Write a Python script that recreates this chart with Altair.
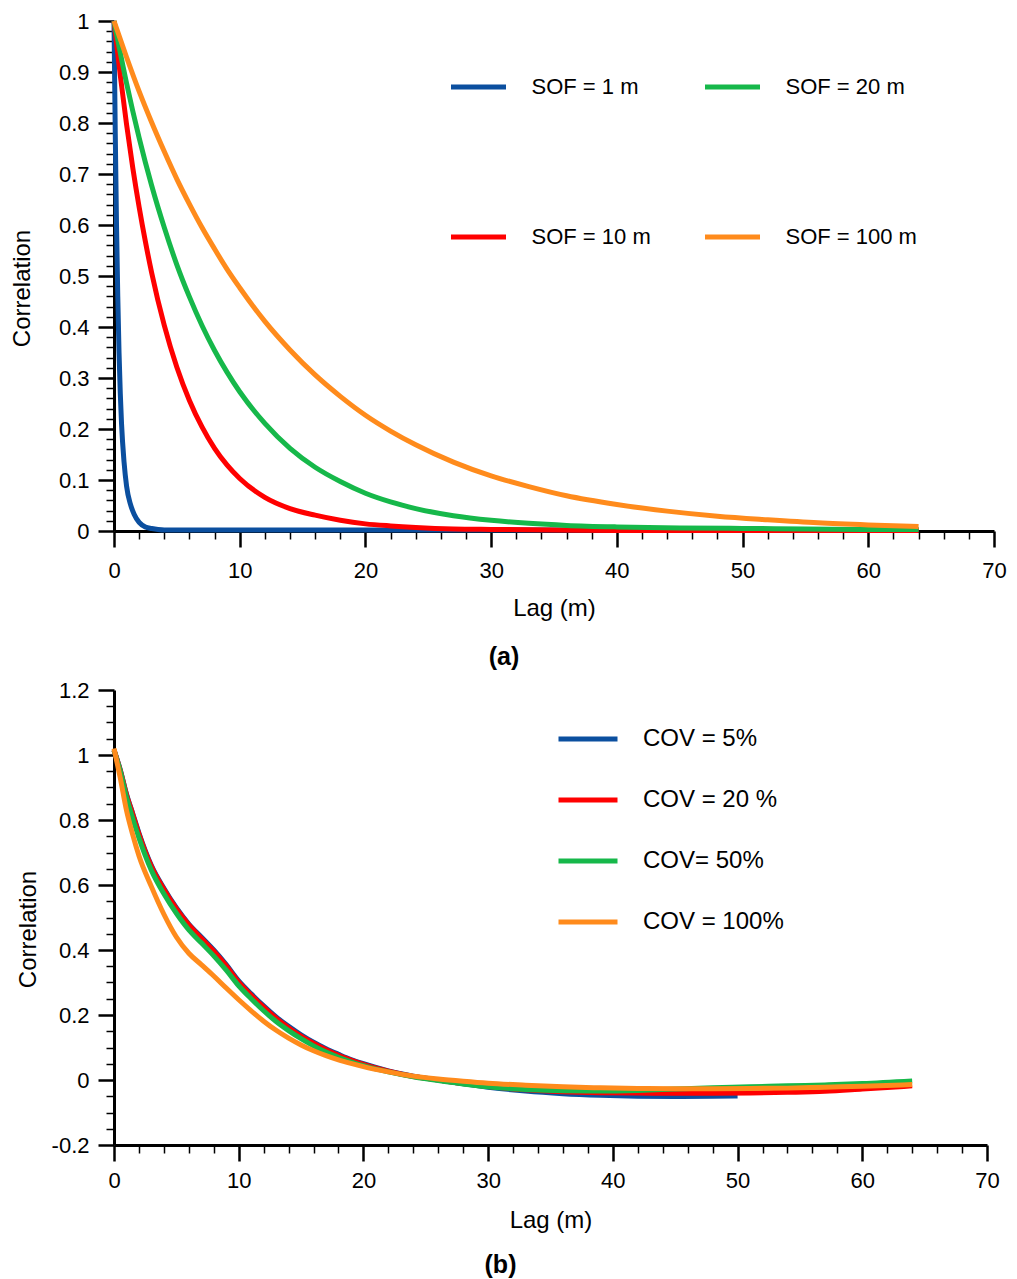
import altair as alt
import pandas as pd

FONT = "Liberation Sans"

# ---------------- panel (a): correlation for several scales of fluctuation ----------------
A_NAMES = ["SOF = 1 m", "SOF = 10 m", "SOF = 20 m", "SOF = 100 m"]          # drawing order
A_LEGEND_ORDER = ["SOF = 1 m", "SOF = 10 m", "SOF = 20 m", "SOF = 100 m"]
A_LEGEND_COLORS = ["#0B4F9F", "#FF0000", "#16B84A", "#FF8B1C"]

a_lag_1 = [0, 0.1, 0.2, 0.3, 0.4, 0.5, 0.6, 0.8, 1.0, 1.3, 1.6, 2.0, 2.5, 3.0, 3.5, 4.0,
           6, 10, 20, 30, 40, 50, 60, 64]
a_cor_1 = [1.0, 0.78, 0.6, 0.46, 0.35, 0.27, 0.21, 0.135, 0.088, 0.053, 0.033, 0.017, 0.008,
           0.005, 0.003, 0.002, 0.002, 0.002, 0.002, 0.002, 0.002, 0.002, 0.002, 0.002]

a_lag_10 = [0, 0.5, 1, 1.5, 2, 2.5, 3, 4, 5, 6, 7, 8, 9, 10, 12, 14, 16, 18, 20, 22, 24, 27,
            30, 35, 40, 45, 50, 55, 60, 64]
a_cor_10 = [1.0, 0.893, 0.797, 0.711, 0.635, 0.567, 0.506, 0.403, 0.321, 0.256, 0.204, 0.162,
            0.129, 0.103, 0.066, 0.044, 0.031, 0.021, 0.014, 0.010, 0.007, 0.004, 0.003, 0.002,
            0.001, 0.001, 0.001, 0.001, 0.001, 0.001]

a_lag_20 = [0, 1, 2, 3, 4, 5, 6, 7, 8, 9, 10, 12, 14, 16, 18, 20, 22, 24, 27, 30,
            33, 36, 40, 45, 50, 55, 60, 64]
a_cor_20 = [1.0, 0.878, 0.771, 0.677, 0.595, 0.522, 0.459, 0.403, 0.354, 0.311, 0.273, 0.211,
            0.162, 0.125, 0.097, 0.074, 0.057, 0.044, 0.030, 0.021, 0.015, 0.011, 0.008, 0.006,
            0.005, 0.004, 0.003, 0.003]

a_lag_100 = [0, 1, 2, 3, 4, 5, 6, 7, 8, 9, 10, 12, 14, 16, 18, 20, 22, 24, 27, 30, 33, 36, 40,
             44, 48, 52, 56, 60, 64]
a_cor_100 = [1.0, 0.929, 0.862, 0.801, 0.744, 0.690, 0.641, 0.595, 0.553, 0.513, 0.477, 0.411,
             0.355, 0.306, 0.264, 0.227, 0.196, 0.169, 0.135, 0.108, 0.087, 0.069, 0.052, 0.039,
             0.029, 0.022, 0.016, 0.012, 0.009]

A_DATA = {
    "SOF = 1 m": (a_lag_1, a_cor_1),
    "SOF = 10 m": (a_lag_10, a_cor_10),
    "SOF = 20 m": (a_lag_20, a_cor_20),
    "SOF = 100 m": (a_lag_100, a_cor_100),
}

# ---------------- panel (b): correlation for several COV values ----------------
B_NAMES = ["COV = 5%", "COV = 20 %", "COV= 50%", "COV = 100%"]
B_COLORS = ["#0B4F9F", "#FF0000", "#16B84A", "#FF8B1C"]

b_lag_5 = [0, 0.5, 1, 1.5, 2, 3, 4, 5, 6, 7, 8, 9, 10, 11, 12, 13, 14, 15, 16, 17, 18, 19, 20,
           22, 24, 26, 28, 30, 33, 36, 39, 42, 45, 48, 50]
b_cor_5 = [1.015, 0.955, 0.88, 0.82, 0.76, 0.66, 0.59, 0.53, 0.48, 0.44, 0.40, 0.355, 0.305,
           0.265, 0.228, 0.194, 0.165, 0.139, 0.116, 0.096, 0.079, 0.063, 0.05, 0.028, 0.012,
           0.0, -0.012, -0.022, -0.034, -0.042, -0.047, -0.05, -0.051, -0.05, -0.049]

b_lag = [0, 0.5, 1, 1.5, 2, 3, 4, 5, 6, 7, 8, 9, 10, 11, 12, 13, 14, 15, 16, 17, 18, 19, 20,
         22, 24, 26, 28, 30, 33, 36, 39, 42, 45, 48, 51, 54, 57, 60, 64]
b_cor_20 = [1.015, 0.953, 0.878, 0.818, 0.757, 0.657, 0.587, 0.527, 0.477, 0.436, 0.396, 0.351,
            0.301, 0.261, 0.224, 0.19, 0.161, 0.135, 0.113, 0.093, 0.076, 0.061, 0.048, 0.027,
            0.011, 0.0, -0.011, -0.02, -0.03, -0.036, -0.039, -0.04, -0.041, -0.041, -0.04,
            -0.038, -0.035, -0.028, -0.018]
b_cor_50 = [1.015, 0.95, 0.87, 0.805, 0.745, 0.645, 0.573, 0.513, 0.462, 0.422, 0.382, 0.338,
            0.29, 0.25, 0.213, 0.18, 0.152, 0.127, 0.105, 0.086, 0.07, 0.056, 0.044, 0.025,
            0.01, -0.002, -0.012, -0.021, -0.029, -0.033, -0.034, -0.032, -0.028, -0.024,
            -0.021, -0.018, -0.015, -0.011, -0.003]
b_cor_100 = [1.02, 0.93, 0.83, 0.755, 0.69, 0.595, 0.51, 0.44, 0.39, 0.355, 0.32, 0.283, 0.247,
             0.213, 0.181, 0.153, 0.129, 0.108, 0.09, 0.075, 0.062, 0.051, 0.041, 0.025, 0.012,
             0.003, -0.004, -0.01, -0.016, -0.021, -0.024, -0.026, -0.027, -0.027, -0.026,
             -0.025, -0.022, -0.019, -0.014]

B_DATA = {
    "COV = 5%": (b_lag_5, b_cor_5),
    "COV = 20 %": (b_lag, b_cor_20),
    "COV= 50%": (b_lag, b_cor_50),
    "COV = 100%": (b_lag, b_cor_100),
}

# ---------------- tick values ----------------
X_MAJOR = [0, 10, 20, 30, 40, 50, 60, 70]
X_MINOR = [v for v in range(0, 71, 2) if v % 10 != 0]
A_Y_MAJOR = [0, 0.1, 0.2, 0.3, 0.4, 0.5, 0.6, 0.7, 0.8, 0.9, 1.0]
A_Y_MINOR = [round(i * 0.02, 2) for i in range(51) if i % 5 != 0]
B_Y_MAJOR = [-0.2, 0, 0.2, 0.4, 0.6, 0.8, 1.0, 1.2]
B_Y_MINOR = [round(-0.2 + i * 0.05, 2) for i in range(29) if i % 4 != 0]

LABEL_EXPR = "datum.value < 0 ? '-' + format(-datum.value, '~g') : format(datum.value, '~g')"

LABEL_SIZE = 22
TITLE_SIZE = 24


def to_frame(data):
    rows = []
    for name, (lags, cors) in data.items():
        for l, c in zip(lags, cors):
            rows.append({"series": name, "lag": l, "corr": c})
    return pd.DataFrame(rows)


def panel(data, names, legend_domain, legend_range, legend, ydomain, ymajor, yminor,
          width, height, x_label_pad, title_x, title_y, x_title_pad, title_text, title_offset):
    df = to_frame(data)
    xs = alt.Scale(domain=[0, 70], nice=False, zero=False)
    ys = alt.Scale(domain=ydomain, nice=False, zero=False)
    cs = alt.Scale(domain=legend_domain, range=legend_range)

    x_major = alt.Axis(orient="bottom", values=X_MAJOR, format="d", title="Lag (m)",
                       tickSize=16, tickWidth=2.5, tickColor="black", domainColor="black",
                       domainWidth=3, labelFont=FONT, labelFontSize=LABEL_SIZE,
                       labelColor="black", labelPadding=x_label_pad, labelFlush=False,
                       labelOverlap=False, titleFont=FONT, titleFontSize=TITLE_SIZE,
                       titleFontWeight="normal", titleColor="black", titlePadding=x_title_pad,
                       grid=False)
    x_minor = alt.Axis(orient="bottom", values=X_MINOR, title=None, labels=False, domain=False,
                       tickSize=8, tickWidth=1.5, tickColor="black", grid=False)
    y_major = alt.Axis(orient="left", values=ymajor, labelExpr=LABEL_EXPR, title="Correlation",
                       tickSize=16, tickWidth=2.5, tickColor="black", domainColor="black",
                       domainWidth=3, labelFont=FONT, labelFontSize=LABEL_SIZE,
                       labelColor="black", labelPadding=9, labelFlush=False, labelOverlap=False,
                       titleFont=FONT, titleFontSize=TITLE_SIZE, titleFontWeight="normal",
                       titleColor="black", titleX=title_x, titleY=title_y,
                       titleAlign="center", titleBaseline="middle", grid=False)
    y_minor = alt.Axis(orient="left", values=yminor, title=None, labels=False, domain=False,
                       tickSize=8, tickWidth=1.5, tickColor="black", grid=False)

    layers = []
    for i, name in enumerate(names):
        if i == 0:
            xa, ya = x_major, y_major
        elif i == 1:
            xa, ya = x_minor, y_minor
        else:
            xa, ya = None, None
        layer = alt.Chart(df).transform_filter(alt.datum.series == name).mark_line(
            strokeWidth=5, interpolate="monotone", strokeCap="butt"
        ).encode(
            x=alt.X("lag:Q", scale=xs, axis=xa),
            y=alt.Y("corr:Q", scale=ys, axis=ya),
            color=alt.Color("series:N", scale=cs, legend=legend),
        )
        layers.append(layer)

    return alt.layer(*layers).resolve_axis(x="independent", y="independent").properties(
        width=width, height=height,
        title=alt.TitleParams(title_text, orient="bottom", anchor="middle", font=FONT,
                              fontSize=25, fontWeight="bold", color="black",
                              offset=title_offset, dx=-50),
    )


legend_a = alt.Legend(orient="none", legendX=334.5, legendY=36, columns=2, title=None,
                      symbolType="stroke", symbolSize=3025, symbolStrokeWidth=5,
                      labelFont=FONT, labelFontSize=22, labelColor="black", labelOffset=23,
                      labelLimit=400, rowPadding=109, columnPadding=43, padding=0)
legend_b = alt.Legend(orient="none", legendX=442, legendY=17, direction="vertical", title=None,
                      symbolType="stroke", symbolSize=3481, symbolStrokeWidth=5,
                      labelFont=FONT, labelFontSize=24, labelColor="black", labelOffset=23,
                      labelLimit=400, rowPadding=17, padding=0)

top = panel(A_DATA, A_NAMES, A_LEGEND_ORDER, A_LEGEND_COLORS, legend_a, [0, 1],
            A_Y_MAJOR, A_Y_MINOR, 880, 510, 13, -92, 267, 15, "(a)", 25)
bottom = panel(B_DATA, B_NAMES, B_NAMES, B_COLORS, legend_b, [-0.2, 1.2],
               B_Y_MAJOR, B_Y_MINOR, 873, 455, 9, -86, 239, 17, "(b)", 21)

chart = alt.vconcat(top, bottom, spacing=9).resolve_scale(color="independent").properties(
    padding={"left": 10, "top": 10, "right": 0, "bottom": 0}
).configure_view(stroke=None)

chart.save("out.html", embed_options={"renderer": "svg", "actions": False})
